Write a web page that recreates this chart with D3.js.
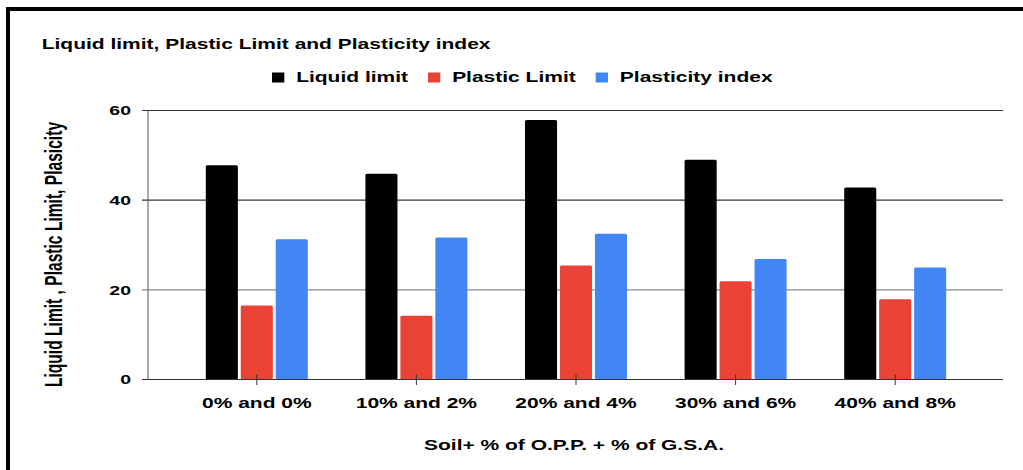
<!DOCTYPE html>
<html lang="en">
<head>
  <meta charset="UTF-8">
  <title>Liquid limit, Plastic Limit and Plasticity index</title>
  <style>
    body { margin: 0; background: #fff; }
    text { font-family: 'Liberation Sans', Arial, sans-serif; font-weight: bold; fill: #000; }
  </style>
</head>
<body>
  <svg id="svg" width="1023" height="470"></svg>

  <script src="https://d3js.org/d3.v7.min.js"></script>
  <script>
    // data
    const categories = ['0% and 0%', '10% and 2%', '20% and 4%', '30% and 6%', '40% and 8%']
    const series = ['Liquid limit', 'Plastic Limit', 'Plasticity index']
    const liquidLimit = [47.8, 45.9, 57.9, 49.0, 42.8]
    const plasticLimit = [16.5, 14.2, 25.4, 21.9, 17.9]
    const plasticityIndex = [31.3, 31.7, 32.5, 26.9, 25.0]
    const yTicks = [0, 20, 40, 60]
    const colors = ['#000000', '#ea4335', '#4285f4']

    const values = [liquidLimit, plasticLimit, plasticityIndex]
    const rows = categories.map((c, i) => ({ cat: c, vals: series.map((s, j) => ({ key: s, value: values[j][i] })) }))

    // the reference is stretched sideways, so text gets scaled 1.5 in x
    const sx = 1.5

    const svg = d3.select('#svg')

    // outer frame (runs off the right and bottom edges)
    svg.append('rect')
      .attr('x', 8).attr('y', 9)
      .attr('width', 1100).attr('height', 600)
      .attr('fill', 'none')
      .attr('stroke', '#000')
      .attr('stroke-width', 4)

    const plotL = 148, plotR = 1003, plotT = 110.5, plotB = 379.5

    const xScale = d3.scaleBand()
      .domain(categories)
      .range([177, 975])

    const groupW = 102
    const x1 = d3.scaleBand()
      .domain(series)
      .range([xScale.bandwidth() / 2 - groupW / 2, xScale.bandwidth() / 2 + groupW / 2])
      .paddingInner(0.083)

    const yScale = d3.scaleLinear()
      .domain([0, 60])
      .range([plotB, plotT])

    const colorScale = d3.scaleOrdinal()
      .domain(series)
      .range(colors)

    // gridlines
    svg.append('g')
      .selectAll('line')
      .data(yTicks)
      .enter()
      .append('line')
      .attr('x1', plotL - 6)
      .attr('x2', plotR)
      .attr('y1', d => yScale(d))
      .attr('y2', d => yScale(d))
      .attr('stroke', d => d === 20 ? '#8a8a8a' : '#333')
      .attr('stroke-width', 1.2)

    // y axis line
    svg.append('line')
      .attr('x1', plotL).attr('x2', plotL)
      .attr('y1', plotT).attr('y2', plotB)
      .attr('stroke', '#555')

    // y tick labels
    svg.append('g')
      .selectAll('text')
      .data(yTicks)
      .enter()
      .append('text')
      .attr('transform', d => `translate(131,${yScale(d) + 4.8}) scale(${sx},1)`)
      .attr('text-anchor', 'end')
      .style('font-size', '13px')
      .text(d => d)

    // bars
    const groups = svg.append('g')
      .selectAll('g')
      .data(rows)
      .enter()
      .append('g')
      .attr('transform', d => `translate(${xScale(d.cat)},0)`)

    groups.selectAll('rect')
      .data(d => d.vals)
      .enter()
      .append('rect')
      .attr('x', d => x1(d.key))
      .attr('y', d => yScale(d.value))
      .attr('width', x1.bandwidth())
      .attr('height', d => yScale(0) - yScale(d.value))
      .attr('rx', 1.5)
      .attr('fill', d => colorScale(d.key))

    // baseline on top of bars
    svg.append('line')
      .attr('x1', plotL).attr('x2', plotR)
      .attr('y1', plotB).attr('y2', plotB)
      .attr('stroke', '#333')
      .attr('stroke-width', 1.2)

    // x ticks
    svg.append('g')
      .selectAll('line')
      .data(categories)
      .enter()
      .append('line')
      .attr('x1', d => xScale(d) + xScale.bandwidth() / 2)
      .attr('x2', d => xScale(d) + xScale.bandwidth() / 2)
      .attr('y1', plotB - 5)
      .attr('y2', plotB + 5.5)
      .attr('stroke', '#333')

    // x labels
    svg.append('g')
      .selectAll('text')
      .data(categories)
      .enter()
      .append('text')
      .attr('transform', d => `translate(${xScale(d) + xScale.bandwidth() / 2},407.5) scale(${sx},1)`)
      .attr('text-anchor', 'middle')
      .style('font-size', '14px')
      .text(d => d)

    // axis titles
    svg.append('text')
      .attr('transform', `translate(574,450) scale(${sx},1)`)
      .attr('text-anchor', 'middle')
      .style('font-size', '14px')
      .text('Soil+ % of O.P.P. + % of G.S.A.')

    svg.append('text')
      .attr('transform', `translate(61.5,254.5) scale(${sx},1) rotate(-90)`)
      .attr('text-anchor', 'middle')
      .style('font-size', '15.6px')
      .text('Liquid Limit , Plastic Limit, Plasicity')

    // chart title
    svg.append('text')
      .attr('transform', `translate(41.7,49) scale(${sx},1)`)
      .style('font-size', '14px')
      .text('Liquid limit, Plastic Limit and Plasticity index')

    // legend
    const legend = svg.append('g')
      .attr('transform', `translate(272,0) scale(${sx},1)`)

    let lx = 0
    series.forEach(s => {
      legend.append('rect')
        .attr('x', lx).attr('y', 72.5)
        .attr('width', 8.2).attr('height', 10)
        .attr('fill', colorScale(s))
      const t = legend.append('text')
        .attr('x', lx + 16.1)
        .attr('y', 82.3)
        .style('font-size', '14px')
        .text(s)
      lx += 16.1 + t.node().getComputedTextLength() + 13.3
    })
  </script>
</body>
</html>
